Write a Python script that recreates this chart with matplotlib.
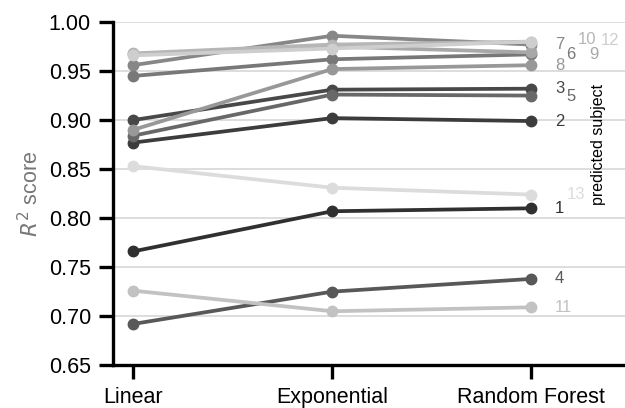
import numpy as np
import matplotlib.pyplot as plt

plt.rcParams['font.family'] = ['Liberation Sans', 'DejaVu Sans']

models = ['Linear', 'Exponential', 'Random Forest']
subjects = ['1', '2', '3', '4', '5', '6', '7', '8', '9', '10', '11', '12', '13']

# R2 per subject: Linear, Exponential, Random Forest
r2_linear = [0.766, 0.877, 0.900, 0.692, 0.884, 0.945, 0.956, 0.890, 0.967, 0.968, 0.726, 0.966, 0.853]
r2_expo = [0.807, 0.902, 0.931, 0.725, 0.926, 0.962, 0.986, 0.952, 0.975, 0.977, 0.705, 0.973, 0.831]
r2_rf = [0.810, 0.899, 0.932, 0.738, 0.925, 0.967, 0.977, 0.956, 0.969, 0.980, 0.709, 0.980, 0.824]

greys = ['#303030', '#3c3c3c', '#484848', '#585858', '#686868', '#787878', '#878787',
         '#989898', '#a8a8a8', '#b6b6b6', '#c2c2c2', '#cecece', '#dcdcdc']
# nudge of the subject labels (slots to the right, points up) so crowded ones don't collide
lab_slot = [0, 0, 0, 0, 1, 1, 0, 0, 3, 2, 0, 4, 1]
lab_up = [0, 0, 0, 0, -1, 0, 0, 0, -1.5, 1.5, 0, 1, 0]

fig = plt.figure(figsize=(6.25, 4.08), dpi=100)
ax = fig.add_axes([0.181, 0.105, 0.819, 0.841])

x = np.arange(len(models))
for i in range(len(subjects)):
    y = [r2_linear[i], r2_expo[i], r2_rf[i]]
    ax.plot(x, y, '-o', color=greys[i], lw=2.7, ms=7.5, clip_on=False, zorder=3)
    ax.annotate(subjects[i], (x[-1], r2_rf[i]), xytext=(17 + 8.3 * lab_slot[i], lab_up[i]),
                textcoords='offset points', va='center', ha='left',
                fontsize=12, color=greys[i])

ax.text(2.337, 0.875, 'predicted subject', rotation=90, ha='center', va='center', fontsize=11.5)

ax.set_xlim(-0.1, 2.47)
ax.set_ylim(0.65, 1.0)
ax.set_yticks(np.arange(0.65, 1.001, 0.05))
ax.set_yticklabels(['%.2f' % v for v in np.arange(0.65, 1.001, 0.05)])
ax.set_xticks(x)
ax.set_xticklabels(models)
ax.yaxis.grid(True, color='#dddddd', lw=1.4)
ax.set_axisbelow(True)

for s in ['top', 'right']:
    ax.spines[s].set_visible(False)
for s in ['left', 'bottom']:
    ax.spines[s].set_linewidth(2.4)
ax.tick_params(axis='both', length=10, width=2.4, labelsize=15.5, pad=6)
ax.set_ylabel('$R^2$ score', fontsize=15.5, color='#777777', labelpad=4)

plt.savefig('out.png', dpi=100)
